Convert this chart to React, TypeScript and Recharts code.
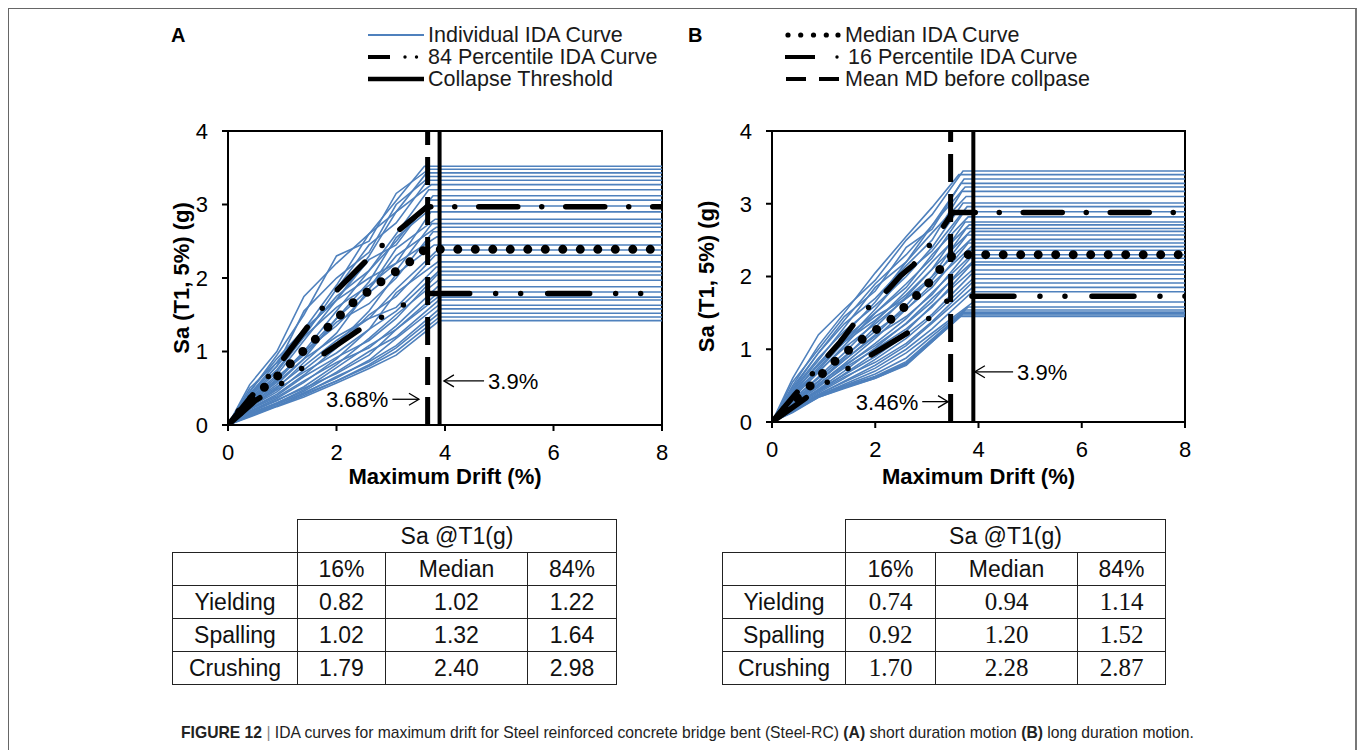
import React from "react";
import { LineChart, Line, XAxis, YAxis, ReferenceLine, ReferenceArea, Label } from "recharts";

const FONT = "'Liberation Sans', Arial, Helvetica, sans-serif";
const SERIF = "'Liberation Serif', 'Times New Roman', serif";
const BLUE = "#4f81bd";

const xTicks = [0, 2, 4, 6, 8];
const yTicks = [0, 1, 2, 3, 4];
const collapseDrift = 3.9;

// drift values (%) at which each individual curve's Sa is read
const driftGrid = [0.4, 0.9, 1.4, 2.0, 2.6, 3.1];

// [drift at plateau, plateau Sa, Sa at each driftGrid point]
const curvesA = [
  [3.62, 3.52, 0.55, 1.0, 1.75, 2.2, 2.6, 3.05],
  [3.7, 3.48, 0.45, 0.95, 1.5, 2.3, 2.5, 3.15],
  [3.66, 3.43, 0.5, 0.85, 1.3, 1.9, 2.6, 2.9],
  [3.72, 3.38, 0.42, 0.8, 1.55, 2.0, 2.35, 3.0],
  [3.68, 3.33, 0.38, 0.72, 1.2, 1.85, 2.45, 2.75],
  [3.75, 3.27, 0.46, 0.9, 1.3, 1.7, 2.3, 2.9],
  [3.7, 3.2, 0.32, 0.62, 1.0, 1.55, 2.1, 2.6],
  [3.78, 3.12, 0.4, 0.8, 1.25, 1.75, 2.1, 2.5],
  [3.72, 3.06, 0.36, 0.68, 1.15, 1.7, 2.25, 2.45],
  [3.8, 2.98, 0.3, 0.6, 0.98, 1.45, 1.95, 2.55],
  [3.74, 2.9, 0.4, 0.75, 1.2, 1.6, 1.9, 2.2],
  [3.82, 2.8, 0.28, 0.55, 0.9, 1.45, 1.85, 2.4],
  [3.76, 2.74, 0.34, 0.62, 1.0, 1.35, 1.8, 2.1],
  [3.84, 2.69, 0.26, 0.5, 0.85, 1.25, 1.85, 2.3],
  [3.78, 2.63, 0.35, 0.65, 0.95, 1.4, 1.65, 2.0],
  [3.85, 2.56, 0.42, 0.85, 1.3, 1.7, 2.0, 2.2],
  [3.8, 2.45, 0.24, 0.45, 0.75, 1.1, 1.55, 2.05],
  [3.86, 2.38, 0.28, 0.52, 0.8, 1.15, 1.45, 1.85],
  [3.82, 2.31, 0.22, 0.42, 0.68, 1.05, 1.5, 1.75],
  [3.87, 2.22, 0.25, 0.48, 0.72, 0.98, 1.3, 1.8],
  [3.84, 2.15, 0.3, 0.58, 0.9, 1.2, 1.45, 1.6],
  [3.88, 2.09, 0.19, 0.36, 0.58, 0.9, 1.3, 1.55],
  [3.85, 2.04, 0.22, 0.4, 0.66, 0.92, 1.15, 1.45],
  [3.88, 1.97, 0.17, 0.33, 0.52, 0.82, 1.18, 1.5],
  [3.86, 1.88, 0.21, 0.38, 0.6, 0.85, 1.05, 1.35],
  [3.89, 1.81, 0.16, 0.3, 0.48, 0.78, 1.08, 1.3],
  [3.87, 1.74, 0.18, 0.34, 0.5, 0.7, 0.95, 1.3],
  [3.89, 1.7, 0.14, 0.3, 0.46, 0.72, 1.0, 1.2],
  [3.88, 1.63, 0.15, 0.28, 0.44, 0.64, 0.88, 1.18],
  [3.9, 1.58, 0.13, 0.29, 0.43, 0.66, 0.86, 1.08],
  [3.89, 1.52, 0.14, 0.26, 0.42, 0.6, 0.82, 1.05],
  [3.9, 1.47, 0.12, 0.26, 0.4, 0.6, 0.8, 1.0],
  [3.9, 1.42, 0.11, 0.25, 0.38, 0.57, 0.77, 0.95],
];

const medianA = [[0, 0], [0.46, 0.38], [0.92, 0.67], [1.38, 1.0], [1.84, 1.33], [2.3, 1.66], [2.82, 1.95], [3.35, 2.22], [3.63, 2.39], [8, 2.39]];
const p84A = [[0, 0], [0.5, 0.45], [1.0, 0.88], [1.46, 1.33], [2.0, 1.83], [2.5, 2.2], [2.85, 2.45], [3.1, 2.62], [3.67, 2.97], [8, 2.97]];
const p16A = [[0, 0], [0.5, 0.33], [1.0, 0.57], [1.38, 0.78], [1.73, 0.95], [2.47, 1.32], [2.84, 1.47], [3.23, 1.63], [3.67, 1.79], [8, 1.79]];
const meanDriftA = 3.68;

const curvesB = [
  [3.7, 3.45, 0.6, 1.2, 1.55, 1.95, 2.5, 2.85],
  [3.62, 3.4, 0.5, 1.05, 1.5, 2.05, 2.55, 2.95],
  [3.72, 3.34, 0.48, 0.95, 1.4, 1.9, 2.3, 2.7],
  [3.66, 3.28, 0.55, 1.0, 1.45, 1.8, 2.4, 2.65],
  [3.74, 3.23, 0.42, 0.85, 1.3, 1.85, 2.2, 2.7],
  [3.68, 3.17, 0.45, 0.95, 1.35, 1.7, 2.15, 2.5],
  [3.76, 3.1, 0.38, 0.8, 1.2, 1.65, 2.2, 2.6],
  [3.7, 3.01, 0.44, 0.88, 1.25, 1.6, 2.0, 2.4],
  [3.78, 2.96, 0.34, 0.75, 1.1, 1.55, 2.05, 2.35],
  [3.72, 2.89, 0.4, 0.8, 1.15, 1.5, 1.9, 2.25],
  [3.8, 2.82, 0.33, 0.68, 1.05, 1.5, 1.85, 2.3],
  [3.74, 2.75, 0.38, 0.72, 1.1, 1.4, 1.75, 2.1],
  [3.82, 2.71, 0.3, 0.62, 0.95, 1.38, 1.8, 2.2],
  [3.76, 2.66, 0.35, 0.7, 1.02, 1.35, 1.7, 2.0],
  [3.84, 2.62, 0.27, 0.56, 0.88, 1.3, 1.72, 2.1],
  [3.78, 2.57, 0.4, 0.78, 1.12, 1.45, 1.7, 1.95],
  [3.85, 2.51, 0.26, 0.55, 0.85, 1.2, 1.6, 2.0],
  [3.8, 2.46, 0.32, 0.6, 0.9, 1.25, 1.55, 1.85],
  [3.86, 2.41, 0.25, 0.52, 0.8, 1.15, 1.55, 1.9],
  [3.82, 2.36, 0.3, 0.56, 0.85, 1.18, 1.45, 1.75],
  [3.87, 2.3, 0.23, 0.48, 0.76, 1.08, 1.42, 1.78],
  [3.84, 2.25, 0.27, 0.52, 0.78, 1.05, 1.35, 1.65],
  [3.88, 2.2, 0.21, 0.45, 0.7, 1.02, 1.36, 1.7],
  [3.85, 2.16, 0.25, 0.5, 0.74, 1.0, 1.28, 1.58],
  [3.88, 2.09, 0.2, 0.42, 0.66, 0.95, 1.25, 1.6],
  [3.86, 2.03, 0.22, 0.44, 0.65, 0.9, 1.2, 1.48],
  [3.89, 1.97, 0.18, 0.4, 0.6, 0.86, 1.15, 1.45],
  [3.87, 1.91, 0.2, 0.42, 0.62, 0.82, 1.08, 1.38],
  [3.89, 1.85, 0.17, 0.38, 0.56, 0.78, 1.05, 1.36],
  [3.88, 1.79, 0.16, 0.38, 0.55, 0.74, 1.0, 1.28],
  [3.9, 1.65, 0.15, 0.36, 0.52, 0.7, 0.95, 1.22],
  [3.8, 1.58, 0.16, 0.37, 0.5, 0.66, 0.88, 1.18],
  [3.75, 1.54, 0.14, 0.35, 0.49, 0.63, 0.83, 1.14],
  [3.72, 1.51, 0.15, 0.34, 0.47, 0.62, 0.8, 1.12],
  [3.7, 1.49, 0.15, 0.36, 0.48, 0.62, 0.81, 1.12],
  [3.68, 1.47, 0.13, 0.34, 0.46, 0.6, 0.78, 1.1],
  [3.65, 1.45, 0.14, 0.35, 0.47, 0.6, 0.79, 1.1],
];

const medianB = [[0, 0], [0.3, 0.2], [0.66, 0.44], [0.87, 0.59], [1.08, 0.74], [1.3, 0.89], [1.53, 1.01], [1.77, 1.15], [2.02, 1.27], [2.27, 1.39], [2.49, 1.53], [2.71, 1.68], [2.93, 1.82], [3.13, 1.99], [3.31, 2.15], [3.51, 2.3], [8, 2.3]];
const p84B = [[0, 0], [0.45, 0.38], [0.87, 0.74], [1.32, 1.1], [1.74, 1.49], [2.25, 1.82], [2.49, 2.01], [2.74, 2.16], [3.19, 2.55], [3.5, 2.88], [8, 2.88]];
const p16B = [[0, 0], [0.5, 0.25], [1.08, 0.55], [1.48, 0.74], [1.87, 0.9], [2.66, 1.24], [3.03, 1.42], [3.37, 1.65], [3.5, 1.73], [8, 1.73]];
const meanDriftB = 3.46;

const tableRows = ["Yielding", "Spalling", "Crushing"];
const tableCols = ["16%", "Median", "84%"];
const tableA = [[0.82, 1.02, 1.22], [1.02, 1.32, 1.64], [1.79, 2.4, 2.98]];
const tableB = [[0.74, 0.94, 1.14], [0.92, 1.2, 1.52], [1.7, 2.28, 2.87]];

type Pt = { x: number; y: number };
const toPts = (pairs: number[][]): Pt[] => pairs.map(([x, y]) => ({ x, y }));
const curvePts = (c: number[]): Pt[] => [
  { x: 0, y: 0 },
  ...driftGrid.map((d, i) => ({ x: d, y: c[i + 2] })),
  { x: c[0], y: c[1] },
  { x: 8, y: c[1] },
];

const tickStyle = { fill: "#000", fontSize: 22, fontFamily: FONT };
const titleStyle = { fill: "#000", fontSize: 22, fontWeight: 700, fontFamily: FONT };

// arrow annotation: head at the second point of the segment, text beside the first
const makeArrow = (text: string) => (p: any) => {
  const { x1, y1, x2, y2 } = p;
  const dir = x2 > x1 ? 1 : -1;
  return (
    <g>
      <line x1={x1} y1={y1} x2={x2} y2={y2} stroke="#000" strokeWidth={1.3} />
      <polyline
        points={`${x2 - dir * 10},${y2 - 6} ${x2},${y2} ${x2 - dir * 10},${y2 + 6}`}
        fill="none"
        stroke="#000"
        strokeWidth={1.3}
      />
      <text
        x={x1 - dir * 4}
        y={y1}
        dy="0.36em"
        textAnchor={dir > 0 ? "end" : "start"}
        style={{ fontSize: 22, fontFamily: FONT, fill: "#000" }}
      >
        {text}
      </text>
    </g>
  );
};

function IdaChart(props: {
  left: number;
  top: number;
  width: number;
  height: number;
  mLeft: number;
  mRight: number;
  yLabelOffset: number;
  xLabelOffset: number;
  curves: number[][];
  median: number[][];
  p84: number[][];
  p16: number[][];
  meanDrift: number;
  meanArrow: number[];
  collapseArrow: number[];
}) {
  const { meanArrow, collapseArrow } = props;
  return (
    <div style={{ position: "absolute", left: props.left, top: props.top }}>
      <LineChart
        width={props.width}
        height={props.height}
        margin={{ top: 21, right: props.mRight, bottom: 5, left: props.mLeft }}
      >
        <XAxis
          type="number"
          dataKey="x"
          domain={[0, 8]}
          ticks={xTicks}
          allowDataOverflow
          height={70}
          tick={tickStyle}
          tickSize={6}
          tickMargin={13}
          axisLine={{ stroke: "#000", strokeWidth: 2 }}
          tickLine={{ stroke: "#000", strokeWidth: 2 }}
        >
          <Label value="Maximum Drift (%)" position="insideBottom" offset={props.xLabelOffset} style={titleStyle} />
        </XAxis>
        <YAxis
          type="number"
          domain={[0, 4]}
          ticks={yTicks}
          allowDataOverflow
          width={70}
          tick={tickStyle}
          tickSize={6}
          tickMargin={14}
          axisLine={{ stroke: "#000", strokeWidth: 2 }}
          tickLine={{ stroke: "#000", strokeWidth: 2 }}
        >
          <Label
            value="Sa (T1, 5%) (g)"
            angle={-90}
            position="insideLeft"
            offset={props.yLabelOffset}
            style={{ ...titleStyle, textAnchor: "middle" }}
          />
        </YAxis>
        {props.curves.map((c, i) => (
          <Line
            key={"c" + i}
            data={curvePts(c)}
            dataKey="y"
            type="linear"
            stroke={BLUE}
            strokeWidth={1.6}
            dot={false}
            activeDot={false}
            isAnimationActive={false}
          />
        ))}
        <Line
          data={toPts(props.p16)}
          dataKey="y"
          type="linear"
          stroke="#000"
          strokeWidth={5.5}
          strokeLinecap="round"
          strokeDasharray="42 26 0 25 0 27"
          dot={false}
          activeDot={false}
          isAnimationActive={false}
        />
        <Line
          data={toPts(props.p84)}
          dataKey="y"
          type="linear"
          stroke="#000"
          strokeWidth={5.5}
          strokeLinecap="round"
          strokeDasharray="39 24 0 24"
          dot={false}
          activeDot={false}
          isAnimationActive={false}
        />
        <Line
          data={toPts(props.median)}
          dataKey="y"
          type="linear"
          stroke="#000"
          strokeWidth={9}
          strokeLinecap="round"
          strokeDasharray="0 17.5"
          dot={false}
          activeDot={false}
          isAnimationActive={false}
        />
        <ReferenceLine x={props.meanDrift} stroke="#000" strokeWidth={5} strokeDasharray="28 12" />
        <ReferenceLine x={collapseDrift} stroke="#000" strokeWidth={4} />
        <ReferenceArea x1={0} x2={8} y1={0} y2={4} fill="none" stroke="#000" strokeWidth={2} />
        <ReferenceLine
          segment={[{ x: meanArrow[0], y: meanArrow[2] }, { x: meanArrow[1], y: meanArrow[2] }]}
          shape={makeArrow(props.meanDrift + "%")}
        />
        <ReferenceLine
          segment={[{ x: collapseArrow[0], y: collapseArrow[2] }, { x: collapseArrow[1], y: collapseArrow[2] }]}
          shape={makeArrow(collapseDrift + "%")}
        />
      </LineChart>
    </div>
  );
}

function Sample({ kind }: { kind: string }) {
  const k = { stroke: "#000", strokeWidth: 4 };
  return (
    <svg width={60} height={14} style={{ position: "absolute", left: 0, top: 4 }}>
      {kind === "blue" && <line x1={0} x2={56} y1={7} y2={7} stroke={BLUE} strokeWidth={2} />}
      {kind === "p84" && (
        <g>
          <line x1={0} x2={22} y1={7} y2={7} {...k} />
          <circle cx={37} cy={7} r={1.7} fill="#000" />
          <circle cx={48.5} cy={7} r={1.7} fill="#000" />
        </g>
      )}
      {kind === "collapse" && <line x1={0} x2={56} y1={7} y2={7} stroke="#000" strokeWidth={4.5} />}
      {kind === "median" && (
        <g>
          {[3, 15.7, 28.5, 41.3, 53].map((cx) => (
            <circle key={cx} cx={cx} cy={7} r={2.6} fill="#000" />
          ))}
        </g>
      )}
      {kind === "p16" && (
        <g>
          <line x1={0} x2={30} y1={7} y2={7} {...k} />
          <circle cx={52} cy={7} r={1.7} fill="#000" />
        </g>
      )}
      {kind === "mean" && (
        <g>
          <line x1={1} x2={21} y1={7} y2={7} {...k} />
          <line x1={34} x2={54} y1={7} y2={7} {...k} />
        </g>
      )}
    </svg>
  );
}

function LegendBlock({ left, items }: { left: number; items: [string, string][] }) {
  return (
    <div style={{ position: "absolute", left, top: 24 }}>
      {items.map(([kind, text]) => (
        <div key={kind} style={{ position: "relative", height: 22, lineHeight: "22px" }}>
          <Sample kind={kind} />
          <span
            style={{
              position: "absolute",
              left: kind === "p16" ? 63 : 60,
              top: 0,
              whiteSpace: "nowrap",
              fontSize: 21.5,
              fontFamily: FONT,
              color: "#1a1a1a",
            }}
          >
            {text}
          </span>
        </div>
      ))}
    </div>
  );
}

function SaTable({ left, widths, values, numFont }: { left: number; widths: number[]; values: number[][]; numFont: string }) {
  const bd = "1.3px solid #222";
  const cell = (extra: React.CSSProperties = {}): React.CSSProperties => ({
    border: bd,
    padding: 0,
    height: 32,
    textAlign: "center",
    verticalAlign: "middle",
    fontFamily: FONT,
    fontSize: 23,
    color: "#111",
    ...extra,
  });
  return (
    <table
      style={{
        position: "absolute",
        left,
        top: 519,
        borderCollapse: "collapse",
        tableLayout: "fixed",
        width: widths.reduce((a, b) => a + b, 0),
      }}
    >
      <colgroup>
        {widths.map((w, i) => (
          <col key={i} style={{ width: w }} />
        ))}
      </colgroup>
      <tbody>
        <tr>
          <td style={cell({ border: "none" })}></td>
          <td colSpan={3} style={cell()}>
            Sa @T1(g)
          </td>
        </tr>
        <tr>
          <td style={cell()}></td>
          {tableCols.map((c) => (
            <td key={c} style={cell()}>
              {c}
            </td>
          ))}
        </tr>
        {tableRows.map((r, i) => (
          <tr key={r}>
            <td style={cell()}>{r}</td>
            {values[i].map((v, j) => (
              <td key={j} style={cell({ fontFamily: numFont, fontSize: numFont === SERIF ? 25 : 23 })}>
                {v.toFixed(2)}
              </td>
            ))}
          </tr>
        ))}
      </tbody>
    </table>
  );
}

export default function App() {
  return (
    <div style={{ position: "absolute", left: 0, top: 0, width: 1357, height: 750, overflow: "hidden", background: "#fff" }}>
      <div
        style={{
          position: "absolute",
          left: 8,
          top: 8,
          width: 1346,
          height: 760,
          borderTop: "1.5px solid #666",
          borderLeft: "1.5px solid #666",
          borderRight: "2px solid #777",
        }}
      />
      <div style={{ position: "absolute", left: 171, top: 24, fontFamily: FONT, fontWeight: 700, fontSize: 20, lineHeight: "22px" }}>A</div>
      <div style={{ position: "absolute", left: 688, top: 24, fontFamily: FONT, fontWeight: 700, fontSize: 20, lineHeight: "22px" }}>B</div>
      <LegendBlock
        left={368}
        items={[
          ["blue", "Individual IDA Curve"],
          ["p84", "84 Percentile IDA Curve"],
          ["collapse", "Collapse Threshold"],
        ]}
      />
      <LegendBlock
        left={785}
        items={[
          ["median", "Median IDA Curve"],
          ["p16", "16 Percentile IDA Curve"],
          ["mean", "Mean MD before collpase"],
        ]}
      />
      <IdaChart
        left={140}
        top={110}
        width={550}
        height={390}
        mLeft={18}
        mRight={28}
        yLabelOffset={23}
        xLabelOffset={11}
        curves={curvesA}
        median={medianA}
        p84={p84A}
        p16={p16A}
        meanDrift={meanDriftA}
        meanArrow={[3.03, 3.52, 0.35]}
        collapseArrow={[4.72, 3.98, 0.6]}
      />
      <IdaChart
        left={680}
        top={110}
        width={535}
        height={387}
        mLeft={22}
        mRight={30}
        yLabelOffset={4}
        xLabelOffset={8}
        curves={curvesB}
        median={medianB}
        p84={p84B}
        p16={p16B}
        meanDrift={meanDriftB}
        meanArrow={[2.91, 3.41, 0.28]}
        collapseArrow={[4.67, 3.93, 0.69]}
      />
      <SaTable left={172} widths={[125, 88, 142, 89]} values={tableA} numFont={FONT} />
      <SaTable left={722} widths={[123, 90, 142, 88]} values={tableB} numFont={SERIF} />
      <div
        style={{
          position: "absolute",
          left: 181,
          top: 724,
          fontFamily: FONT,
          fontSize: 15.7,
          lineHeight: "18px",
          color: "#222",
          whiteSpace: "nowrap",
        }}
      >
        <b>FIGURE 12</b> <span style={{ color: "#888" }}>|</span> IDA curves for maximum drift for Steel reinforced concrete
        bridge bent (Steel-RC) <b>(A)</b> short duration motion <b>(B)</b> long duration motion.
      </div>
    </div>
  );
}
